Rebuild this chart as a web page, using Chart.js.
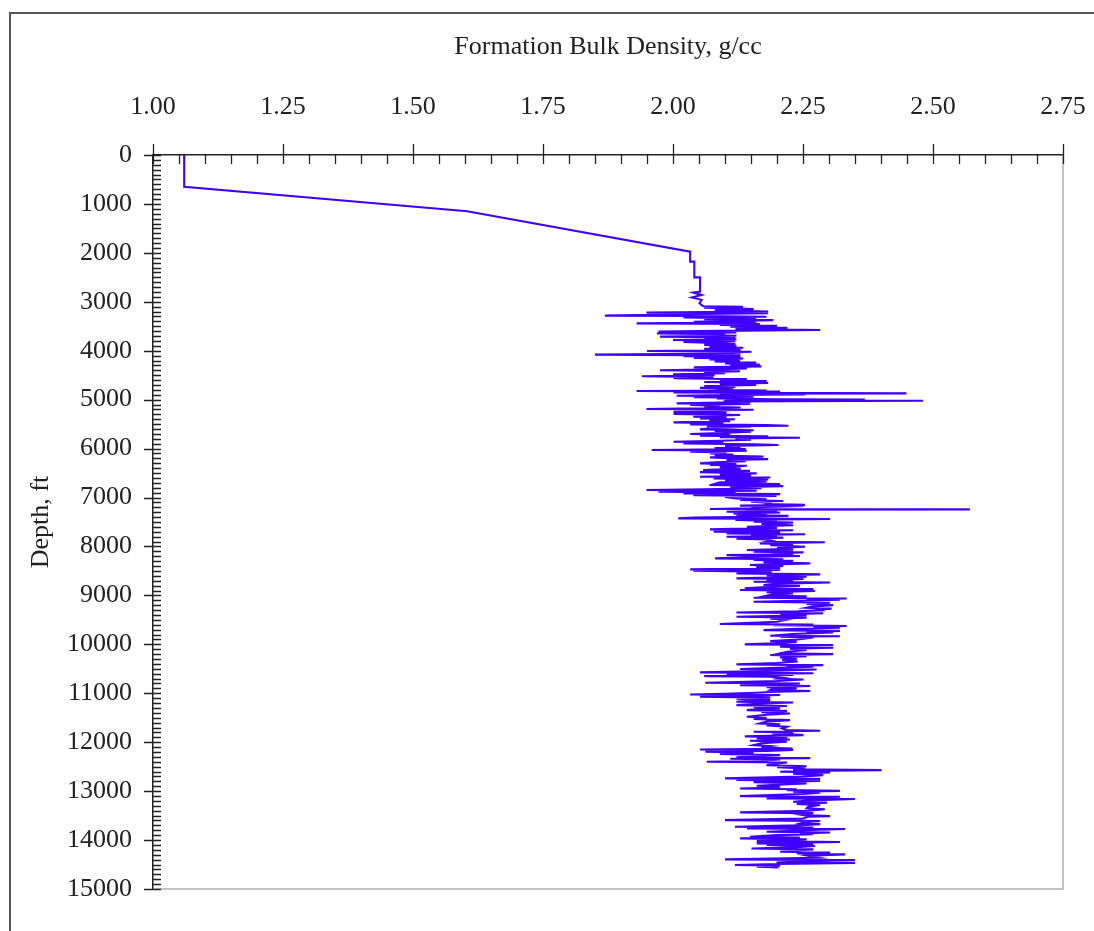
<!DOCTYPE html>
<html>
<head>
<meta charset="utf-8">
<script src="https://cdn.jsdelivr.net/npm/chart.js@4.4.1/dist/chart.umd.min.js"></script>
<style>
  html, body { margin: 0; padding: 0; background: #fff; }
  #wrap { position: relative; width: 1094px; height: 931px; overflow: hidden; }
  #frame {
    position: absolute; left: 9px; top: 12px; width: 1200px; height: 1000px;
    border-top: 2px solid #555; border-left: 2px solid #555;
  }
  #log-chart { position: absolute; left: 0; top: 0; }
</style>
</head>
<body>
<div id="wrap">
  <div id="frame"></div>
  <canvas id="log-chart" width="1094" height="931"></canvas>
</div>
<script>
// tick labels
const densityTicks = [1.00, 1.25, 1.50, 1.75, 2.00, 2.25, 2.50, 2.75];
const depthTicks = [0, 1000, 2000, 3000, 4000, 5000, 6000, 7000, 8000, 9000, 10000, 11000, 12000, 13000, 14000, 15000];

// log samples, depth (ft) and bulk density (g/cc)
const depthFt = [
  0, 650, 1150, 1975, 2180, 2180, 2500, 2500, 2790, 2810,
  2860, 2910, 2960, 3030, 3090, 3100, 3120, 3150, 3175, 3200,
  3222, 3235, 3250, 3283, 3290, 3305, 3320, 3340, 3355, 3375,
  3395, 3410, 3425, 3440, 3455, 3475, 3490, 3510, 3530, 3550,
  3575, 3590, 3610, 3625, 3645, 3660, 3680, 3695, 3712, 3730,
  3750, 3765, 3780, 3800, 3820, 3840, 3860, 3880, 3900, 3920,
  3940, 3960, 3985, 4005, 4020, 4040, 4060, 4080, 4095, 4110,
  4125, 4145, 4160, 4180, 4200, 4220, 4240, 4260, 4280, 4300,
  4320, 4340, 4360, 4380, 4400, 4420, 4440, 4460, 4480, 4500,
  4520, 4540, 4560, 4580, 4600, 4620, 4640, 4660, 4680, 4700,
  4720, 4740, 4760, 4780, 4800, 4815, 4824, 4835, 4850, 4860,
  4871, 4880, 4892, 4905, 4920, 4935, 4950, 4960, 4975, 4990,
  5000, 5010, 5021, 5035, 5050, 5076, 5090, 5110, 5125, 5144,
  5160, 5191, 5205, 5225, 5246, 5265, 5290, 5314, 5330, 5348,
  5365, 5385, 5400, 5416, 5440, 5464, 5480, 5505, 5518, 5532,
  5545, 5560, 5575, 5607, 5625, 5640, 5654, 5680, 5702, 5715,
  5736, 5750, 5765, 5777, 5795, 5820, 5840, 5859, 5875, 5895,
  5910, 5927, 5945, 5965, 5990, 6010, 6029, 6045, 6063, 6080,
  6100, 6120, 6140, 6165, 6180, 6200, 6215, 6233, 6260, 6280,
  6301, 6318, 6335, 6350, 6380, 6410, 6437, 6455, 6480, 6506,
  6530, 6550, 6574, 6590, 6610, 6630, 6650, 6672, 6690, 6710,
  6725, 6745, 6766, 6790, 6810, 6830, 6847, 6860, 6881, 6895,
  6915, 6930, 6950, 6970, 6990, 7018, 7035, 7050, 7070, 7086,
  7110, 7133, 7150, 7165, 7174, 7200, 7220, 7235, 7242, 7250,
  7270, 7290, 7305, 7324, 7340, 7358, 7375, 7392, 7410, 7426,
  7440, 7460, 7480, 7494, 7510, 7540, 7565, 7596, 7620, 7651,
  7670, 7699, 7715, 7735, 7750, 7767, 7785, 7801, 7820, 7840,
  7855, 7880, 7903, 7915, 7937, 7955, 7975, 8005, 8030, 8050,
  8073, 8090, 8107, 8120, 8140, 8160, 8175, 8195, 8215, 8243,
  8260, 8277, 8295, 8320, 8346, 8365, 8380, 8400, 8425, 8448,
  8468, 8480, 8495, 8510, 8530, 8550, 8570, 8590, 8618, 8635,
  8652, 8665, 8690, 8705, 8721, 8735, 8760, 8789, 8805, 8830,
  8857, 8870, 8891, 8910, 8935, 8960, 8985, 9007, 9020, 9048,
  9062, 9075, 9090, 9110, 9130, 9150, 9175, 9198, 9225, 9252,
  9270, 9290, 9300, 9325, 9348, 9365, 9389, 9405, 9436, 9455,
  9475, 9491, 9540, 9586, 9598, 9607, 9625, 9645, 9661, 9685,
  9709, 9725, 9740, 9756, 9790, 9824, 9835, 9845, 9860, 9900,
  9933, 9950, 9975, 10001, 10015, 10030, 10049, 10070, 10090, 10117,
  10150, 10185, 10200, 10219, 10240, 10270, 10300, 10321, 10350, 10380,
  10410, 10425, 10440, 10458, 10480, 10505, 10515, 10540, 10573, 10590,
  10614, 10625, 10650, 10663, 10680, 10697, 10720, 10750, 10786, 10800,
  10820, 10833, 10850, 10875, 10902, 10920, 10936, 10955, 10970, 10990,
  11010, 11024, 11035, 11050, 11072, 11090, 11110, 11140, 11160, 11174,
  11190, 11208, 11242, 11260, 11285, 11310, 11330, 11344, 11360, 11385,
  11412, 11440, 11480, 11500, 11525, 11549, 11580, 11617, 11635, 11660,
  11685, 11720, 11753, 11765, 11787, 11800, 11820, 11855, 11880, 11900,
  11923, 11945, 11970, 11991, 12020, 12059, 12080, 12107, 12130, 12148,
  12160, 12180, 12195, 12215, 12240, 12264, 12285, 12311, 12325, 12338,
  12355, 12380, 12400, 12415, 12440, 12468, 12490, 12510, 12536, 12555,
  12570, 12585, 12604, 12620, 12645, 12672, 12700, 12740, 12750, 12774,
  12790, 12815, 12843, 12870, 12890, 12911, 12930, 12945, 12960, 12979,
  12995, 13013, 13030, 13060, 13101, 13115, 13130, 13149, 13160, 13190,
  13217, 13235, 13260, 13285, 13320, 13353, 13370, 13400, 13435, 13450,
  13470, 13490, 13510, 13524, 13560, 13592, 13610, 13640, 13660, 13675,
  13700, 13728, 13745, 13762, 13775, 13800, 13830, 13845, 13864, 13880,
  13900, 13932, 13950, 13966, 13985, 14005, 14021, 14040, 14068, 14085,
  14102, 14120, 14150, 14171, 14190, 14215, 14239, 14255, 14275, 14293,
  14320, 14360, 14395, 14410, 14430, 14457, 14470, 14490, 14511, 14525,
  14545, 14559
];

const bulkDensity = [
  1.06, 1.06, 1.604, 2.033, 2.033, 2.041, 2.041, 2.052, 2.052, 2.039,
  2.055, 2.036, 2.055, 2.051, 2.058, 2.135, 2.060, 2.155, 2.080, 2.183,
  1.949, 2.183, 2.060, 1.869, 2.052, 2.180, 2.020, 2.160, 2.060, 2.193,
  2.100, 2.040, 2.160, 1.930, 2.167, 2.090, 2.200, 2.110, 2.220, 2.120,
  2.283, 2.130, 1.972, 2.122, 1.969, 2.100, 2.060, 2.122, 1.975, 2.120,
  2.060, 2.122, 2.000, 2.120, 2.020, 2.080, 2.120, 2.060, 2.122, 2.070,
  2.135, 2.060, 2.130, 1.950, 2.151, 2.100, 2.130, 1.850, 2.129, 2.020,
  2.130, 2.040, 2.135, 2.070, 2.129, 2.080, 2.160, 2.100, 2.167, 2.110,
  2.170, 2.040, 2.142, 2.080, 1.975, 2.129, 2.060, 2.100, 2.000, 2.080,
  1.940, 2.078, 2.001, 2.142, 2.090, 2.180, 2.060, 2.183, 2.090, 2.160,
  2.060, 2.120, 2.052, 2.116, 2.084, 2.180, 1.930, 2.206, 2.001, 2.150,
  2.449, 2.090, 2.254, 2.100, 2.007, 2.155, 2.040, 2.155, 2.084, 2.200,
  2.369, 2.100, 2.481, 2.097, 2.150, 2.007, 2.148, 2.033, 2.090, 2.060,
  2.130, 1.949, 2.155, 2.060, 2.001, 2.103, 2.001, 2.129, 2.070, 2.039,
  2.103, 2.052, 2.119, 2.070, 2.110, 2.001, 2.097, 2.033, 2.180, 2.222,
  2.065, 2.150, 2.080, 2.052, 2.155, 2.080, 2.150, 2.090, 2.033, 2.110,
  2.052, 2.183, 2.090, 2.244, 2.120, 2.150, 2.090, 2.001, 2.097, 2.020,
  2.155, 2.203, 2.100, 2.130, 2.080, 2.140, 1.959, 2.142, 2.033, 2.103,
  2.071, 2.116, 2.080, 2.174, 2.071, 2.120, 2.183, 2.103, 2.140, 2.080,
  2.052, 2.122, 2.071, 2.142, 2.090, 2.130, 2.058, 2.148, 2.052, 2.161,
  2.090, 2.150, 2.052, 2.187, 2.078, 2.183, 2.100, 2.180, 2.090, 2.084,
  2.206, 2.070, 2.212, 2.110, 2.170, 2.060, 1.949, 2.161, 1.972, 2.120,
  2.020, 2.206, 2.039, 2.199, 2.100, 2.122, 2.180, 2.129, 2.212, 2.150,
  2.190, 2.174, 2.254, 2.129, 2.251, 2.160, 2.150, 2.071, 2.571, 2.140,
  2.200, 2.103, 2.206, 2.116, 2.180, 2.122, 2.222, 2.150, 2.040, 2.010,
  2.302, 2.120, 2.200, 2.155, 2.231, 2.170, 2.231, 2.142, 2.200, 2.071,
  2.231, 2.078, 2.206, 2.103, 2.254, 2.150, 2.200, 2.103, 2.212, 2.122,
  2.180, 2.190, 2.180, 2.292, 2.167, 2.231, 2.187, 2.254, 2.200, 2.231,
  2.142, 2.231, 2.155, 2.251, 2.190, 2.231, 2.103, 2.244, 2.150, 2.081,
  2.212, 2.155, 2.231, 2.174, 2.264, 2.190, 2.148, 2.212, 2.160, 2.206,
  2.033, 2.206, 2.039, 2.142, 2.190, 2.122, 2.283, 2.180, 2.257, 2.180,
  2.122, 2.251, 2.180, 2.231, 2.155, 2.302, 2.200, 2.174, 2.244, 2.180,
  2.138, 2.270, 2.129, 2.273, 2.180, 2.231, 2.190, 2.180, 2.257, 2.155,
  2.334, 2.257, 2.321, 2.240, 2.155, 2.302, 2.257, 2.308, 2.270, 2.257,
  2.305, 2.273, 2.292, 2.240, 2.122, 2.289, 2.206, 2.257, 2.122, 2.257,
  2.187, 2.222, 2.200, 2.090, 2.270, 2.193, 2.334, 2.270, 2.321, 2.240,
  2.174, 2.321, 2.257, 2.308, 2.230, 2.187, 2.321, 2.206, 2.270, 2.240,
  2.187, 2.238, 2.210, 2.138, 2.308, 2.230, 2.206, 2.308, 2.225, 2.257,
  2.220, 2.206, 2.308, 2.187, 2.257, 2.206, 2.238, 2.210, 2.240, 2.200,
  2.122, 2.289, 2.219, 2.270, 2.200, 2.129, 2.276, 2.200, 2.052, 2.270,
  2.103, 2.231, 2.060, 2.187, 2.206, 2.193, 2.251, 2.200, 2.062, 2.244,
  2.180, 2.129, 2.264, 2.180, 2.238, 2.190, 2.187, 2.264, 2.200, 2.160,
  2.100, 2.033, 2.206, 2.150, 2.052, 2.187, 2.122, 2.187, 2.140, 2.122,
  2.231, 2.170, 2.122, 2.219, 2.155, 2.206, 2.160, 2.142, 2.219, 2.170,
  2.225, 2.180, 2.142, 2.180, 2.155, 2.225, 2.180, 2.167, 2.206, 2.180,
  2.219, 2.210, 2.219, 2.283, 2.155, 2.231, 2.190, 2.251, 2.138, 2.220,
  2.161, 2.225, 2.148, 2.219, 2.170, 2.155, 2.187, 2.170, 2.230, 2.052,
  2.231, 2.180, 2.062, 2.155, 2.090, 2.206, 2.160, 2.122, 2.264, 2.110,
  2.206, 2.170, 2.065, 2.219, 2.200, 2.180, 2.257, 2.200, 2.254, 2.231,
  2.401, 2.240, 2.206, 2.302, 2.231, 2.289, 2.250, 2.100, 2.283, 2.122,
  2.283, 2.155, 2.257, 2.200, 2.161, 2.206, 2.180, 2.129, 2.238, 2.219,
  2.321, 2.231, 2.283, 2.250, 2.129, 2.321, 2.250, 2.180, 2.350, 2.260,
  2.231, 2.296, 2.238, 2.283, 2.260, 2.257, 2.292, 2.260, 2.129, 2.270,
  2.240, 2.251, 2.302, 2.260, 2.250, 2.100, 2.283, 2.250, 2.244, 2.283,
  2.240, 2.119, 2.270, 2.142, 2.331, 2.250, 2.180, 2.302, 2.244, 2.270,
  2.200, 2.148, 2.244, 2.129, 2.257, 2.200, 2.161, 2.321, 2.161, 2.270,
  2.180, 2.273, 2.230, 2.151, 2.270, 2.230, 2.206, 2.302, 2.238, 2.331,
  2.260, 2.280, 2.100, 2.350, 2.260, 2.199, 2.350, 2.200, 2.119, 2.206,
  2.161, 2.203
];

const axisFont = { family: "'Liberation Serif', 'Times New Roman', serif", size: 26 };

// draws the tick marks (major + minor) and the grey right/bottom frame
const logAxesPlugin = {
  id: 'logAxesPlugin',
  afterDraw(chart) {
    const {ctx, chartArea} = chart;
    const xs = chart.scales.x;
    const ys = chart.scales.y;
    ctx.save();

    ctx.strokeStyle = '#b0b0b0';
    ctx.lineWidth = 1.5;
    ctx.beginPath();
    ctx.moveTo(chartArea.right, chartArea.top);
    ctx.lineTo(chartArea.right, chartArea.bottom);
    ctx.lineTo(chartArea.left, chartArea.bottom);
    ctx.stroke();

    ctx.strokeStyle = '#222';
    ctx.lineWidth = 1.3;
    ctx.beginPath();
    for (let i = 0; i <= 35; i++) {
      const v = xs.min + i * 0.05;
      const px = Math.round(xs.getPixelForValue(v)) + 0.5;
      const major = i % 5 === 0;
      ctx.moveTo(px, chartArea.top - (major ? 11 : 0));
      ctx.lineTo(px, chartArea.top + 9);
    }
    for (let d = ys.min; d <= ys.max; d += 100) {
      const py = Math.round(ys.getPixelForValue(d)) + 0.5;
      const major = d % 1000 === 0;
      ctx.moveTo(chartArea.left - (major ? 9 : 0), py);
      ctx.lineTo(chartArea.left + 8, py);
    }
    ctx.stroke();
    ctx.restore();
  }
};

const points = depthFt.map((d, i) => ({x: bulkDensity[i], y: d}));

new Chart(document.getElementById('log-chart'), {
  type: 'scatter',
  data: {
    datasets: [{
      label: 'Bulk density',
      data: points,
      showLine: true,
      borderColor: 'rgb(64, 0, 255)',
      borderWidth: 2.1,
      pointRadius: 0,
      tension: 0
    }]
  },
  options: {
    responsive: false,
    animation: false,
    layout: { padding: { left: 0, top: 0, right: 31, bottom: 42 } },
    plugins: { legend: { display: false }, tooltip: { enabled: false } },
    scales: {
      x: {
        type: 'linear',
        position: 'top',
        min: 1,
        max: 2.75,
        afterBuildTicks(scale) {
          scale.ticks = densityTicks.map(v => ({value: v}));
        },
        afterFit(scale) {
          scale.height = 155;
          scale.paddingLeft = 0;
          scale.paddingRight = 0;
        },
        grid: { display: false, drawTicks: false },
        border: { display: true, color: '#222', width: 1.5 },
        ticks: {
          color: '#222',
          font: axisFont,
          padding: 32,
          maxRotation: 0,
          callback(value) { return Number(value).toFixed(2); }
        },
        title: {
          display: true,
          text: 'Formation Bulk Density, g/cc',
          color: '#222',
          font: axisFont,
          padding: { top: 32, bottom: 0 }
        }
      },
      y: {
        type: 'linear',
        reverse: true,
        min: 0,
        max: 15000,
        afterBuildTicks(scale) {
          scale.ticks = depthTicks.map(v => ({value: v}));
        },
        afterFit(scale) {
          scale.width = 153;
          scale.paddingTop = 0;
          scale.paddingBottom = 0;
        },
        grid: { display: false, drawTicks: false },
        border: { display: true, color: '#222', width: 1.5 },
        ticks: {
          color: '#222',
          font: axisFont,
          padding: 21,
          callback(value) { return String(value); }
        },
        title: {
          display: true,
          text: 'Depth, ft',
          color: '#222',
          font: axisFont,
          padding: { top: 26, bottom: 0 }
        }
      }
    }
  },
  plugins: [logAxesPlugin]
});
</script>
</body>
</html>
